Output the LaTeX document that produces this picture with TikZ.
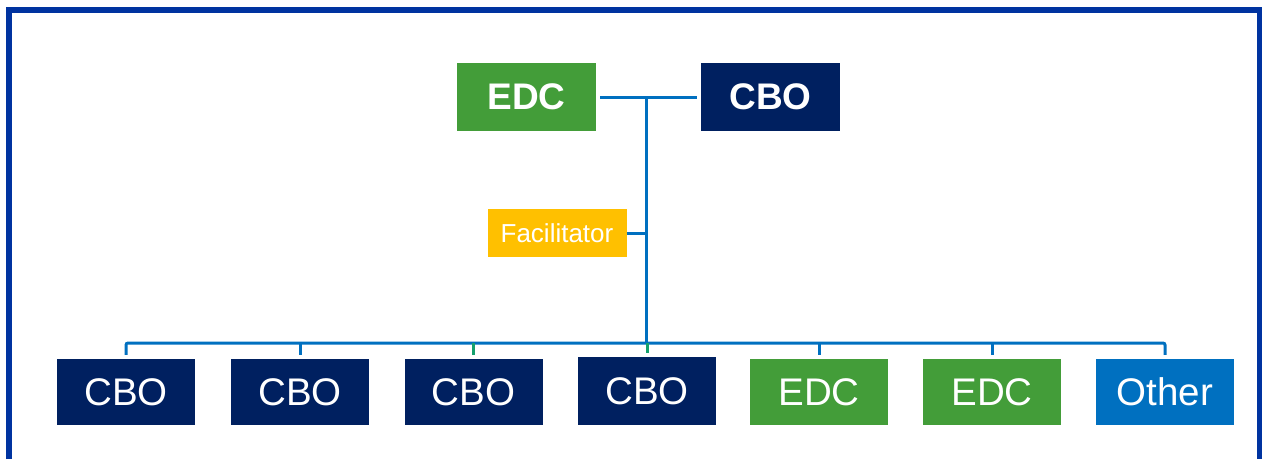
\documentclass[tikz,border=0pt]{standalone}
\usepackage{fontspec}
\setmainfont{Liberation Sans}
\usepackage{xcolor}
\usetikzlibrary{positioning}

\definecolor{edcgreen}{RGB}{67,157,57}
\definecolor{cbonavy}{RGB}{0,32,96}
\definecolor{facgold}{RGB}{255,192,0}
\definecolor{otherblue}{RGB}{0,112,192}
\definecolor{lineblue}{RGB}{0,112,192}
\definecolor{stubgreen}{RGB}{20,160,110}
\definecolor{framecol}{RGB}{0,51,160}

\begin{document}
\begin{tikzpicture}[x=1pt,y=-1pt,
  box/.style={inner sep=0pt,text=white,minimum width=139pt,minimum height=68pt},
  topbox/.style={box,font=\fontsize{37}{40}\selectfont\bfseries},
  lowbox/.style={box,minimum width=138pt,minimum height=66pt,font=\fontsize{38.5}{42}\selectfont},
  link/.style={draw=lineblue,line width=3pt}]
\useasboundingbox (0,0) rectangle (1262,459);
\fill[white] (0,0) rectangle (1262,459);
% frame
\draw[framecol,line width=6pt] (9,459) -- (9,10) -- (1259.5,10) -- (1259.5,459);
% top pair
\node[topbox,fill=edcgreen] (edctop) at (526.5,97) {EDC};
\node[topbox,fill=cbonavy] (cbotop) at (770.5,97) {CBO};
\coordinate (hub) at (646,98);
\coordinate (bus) at (646,343);
\draw[link] ([xshift=4pt]edctop.east) -- ([xshift=-4pt]cbotop.west);
\draw[link] (hub) -- (bus);
% facilitator
\node[box,fill=facgold,minimum height=48pt,font=\fontsize{26}{28}\selectfont] (fac) at (557,233) {Facilitator};
\draw[link] (fac.east) -- (fac.east -| hub);
% bottom row
\node[lowbox,fill=cbonavy] (b1) at (126,392) {CBO};
\node[lowbox,fill=cbonavy] (b2) at (300,392) {CBO};
\node[lowbox,fill=cbonavy] (b3) at (473.5,392) {CBO};
\node[lowbox,fill=cbonavy,minimum height=68pt] (b4) at (647,391) {CBO};
\node[lowbox,fill=edcgreen] (b5) at (819,392) {EDC};
\node[lowbox,fill=edcgreen] (b6) at (992,392) {EDC};
\node[lowbox,fill=otherblue] (b7) at (1165,392) {Other};
\draw[link,rounded corners=2pt] ([yshift=4pt]b1.north) |- (bus) -| ([yshift=4pt]b7.north);
\foreach \i/\c in {2/lineblue,3/stubgreen,4/stubgreen,5/lineblue,6/lineblue}
  \draw[link,draw=\c] ([yshift=4pt]b\i.north) -- (b\i.north |- bus);
\end{tikzpicture}
\end{document}
